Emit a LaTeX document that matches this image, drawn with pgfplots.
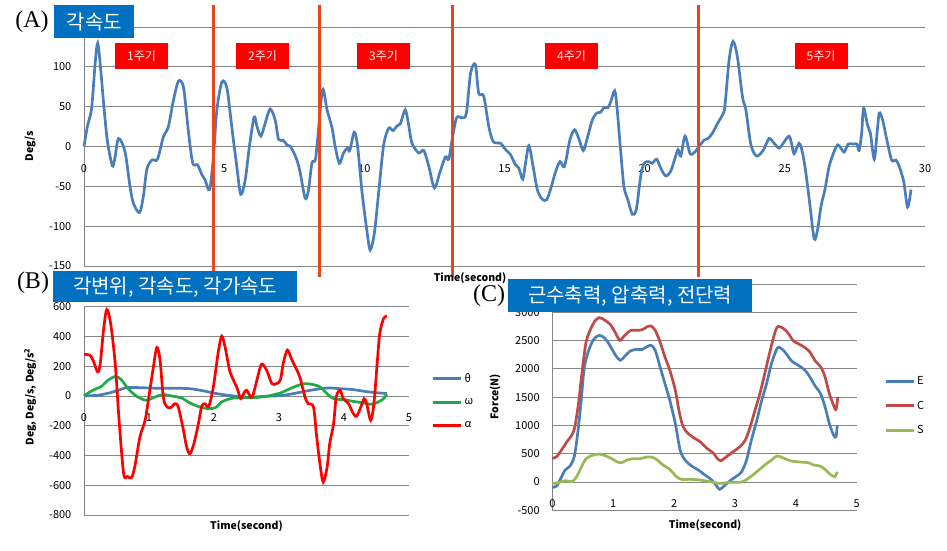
\documentclass[border=0pt]{standalone}
\usepackage{pgfplots}
\pgfplotsset{compat=1.18}
\usepackage{fontspec}
\setmainfont{Noto Sans CJK KR}
\newfontfamily\seriffont{Liberation Serif}

\definecolor{xlblue}{HTML}{4A7EBB}
\definecolor{xlred}{HTML}{BE4B48}
\definecolor{xlgreen}{HTML}{98B954}
\definecolor{brightgreen}{HTML}{1FAA45}
\definecolor{gridgray}{HTML}{868686}
\definecolor{boxblue}{HTML}{0070C0}
\definecolor{cutred}{HTML}{E8461E}

\pgfplotsset{
  excel/.style={
    scale only axis,
    anchor=south west,
    axis x line=middle, axis y line=left,
    axis line style={draw=gridgray, line width=0.8pt, -},
    ymajorgrids,
    major grid style={draw=gridgray, line width=0.8pt},
    tick style={draw=none},
    hide obscured x ticks=false,
    hide obscured y ticks=false,
    /pgf/number format/assume math mode=true,
    /pgf/number format/1000 sep={},
    scaled ticks=false,
    xticklabel style={yshift=-12pt},
    yticklabel style={xshift=-7pt},
    ticklabel style={font=\fontsize{11}{13}\selectfont},
    label style={font=\fontsize{10.5}{12}\selectfont\bfseries},
    every axis plot/.append style={smooth, line width=2.7pt, no markers},
    legend style={draw=none, fill=none, font=\fontsize{11}{13}\selectfont,
      row sep=11pt, anchor=north west},
    legend cell align=left,
    legend image code/.code={\draw[##1, line width=2.8pt] (0pt,0pt) -- (28pt,0pt);},
    clip=false,
  }
}

\begin{document}
\begin{tikzpicture}
\path[use as bounding box] (0pt,0pt) rectangle (947pt,-551pt);

% ---------- (A) angular velocity over five cycles
\begin{axis}[excel,
  at={(84pt,-266pt)}, width=841pt, height=239pt,
  xmin=0, xmax=30, ymin=-150, ymax=150,
  xtick={0,5,...,30}, ytick={-150,-100,...,150},
  yticklabels={-150,-100,-50,0,50,100,},
  xlabel={Time(second)}, ylabel={Deg/s},
  xlabel style={at={(axis description cs:0.459,-0.05)}, anchor=center},
  ylabel style={at={(axis description cs:-0.064,0.5)}, anchor=center},
]
\addplot[xlblue] coordinates {
(0,0)(0.12,25)(0.27,48)(0.40,105)(0.49,130)(0.60,95)(0.69,58)(0.83,8)(1.01,-24)(1.1,-15)
(1.23,10)(1.46,-6)(1.64,-50)(1.76,-71)(1.98,-83)(2.12,-62)(2.24,-29)(2.42,-17)(2.62,-16)
(2.83,12)(3.01,25)(3.19,58)(3.37,82)(3.55,74)(3.73,17)(3.88,-21)(4.05,-23)(4.20,-35)
(4.32,-42)(4.48,-54)(4.62,-12)(4.74,46)(4.92,81)(5.1,73)(5.27,25)(5.45,-25)(5.59,-60)
(5.75,-42)(5.9,0)(6.07,37)(6.17,25)(6.31,13)(6.46,29)(6.64,47)(6.82,33)(6.94,9)(7.1,8)
(7.24,2)(7.36,0)(7.54,-12)(7.69,-29)(7.89,-65)(8.01,-54)(8.13,-21)(8.25,-17)(8.33,8)
(8.51,71)(8.67,46)(8.85,23)(8.96,0)(9.11,-21)(9.26,-8)(9.4,-2)(9.48,-5)(9.64,18)(9.76,0)
(9.92,-58)(10.1,-108)(10.21,-130)(10.36,-108)(10.51,-58)(10.69,2)(10.87,23)(11.02,20)
(11.17,26)(11.29,29)(11.46,46)(11.58,27)(11.70,4)(11.94,-8)(12.12,-5)(12.30,-25)(12.5,-52)
(12.69,-33)(12.89,-13)(13.01,-16)(13.13,8)(13.29,36)(13.49,36)(13.64,42)(13.79,92)
(13.96,103)(14.08,67)(14.26,63)(14.44,25)(14.6,6)(14.86,4)(15.04,-4)(15.21,-10)(15.39,-23)
(15.51,-27)(15.65,-41)(15.75,-21)(15.87,1)(16.02,-25)(16.17,-54)(16.34,-66)(16.5,-67)
(16.64,-54)(16.82,-32)(16.98,-19)(17.14,-25)(17.33,8)(17.5,21)(17.65,10)(17.81,-5)
(17.95,10)(18.13,33)(18.29,42)(18.43,43)(18.55,49)(18.69,49)(18.79,56)(18.93,70)(19.02,46)
(19.14,-4)(19.26,-50)(19.40,-67)(19.56,-85)(19.7,-79)(19.86,-37)(19.98,-21)(20.15,-19)
(20.27,-21)(20.43,-16)(20.57,-27)(20.75,-37)(20.93,-31)(21.07,-16)(21.19,-4)(21.29,-12)
(21.44,13)(21.62,-9)(21.79,-7)(21.94,0)(22.12,8)(22.26,10)(22.42,17)(22.6,29)(22.78,40)
(22.86,50)(23.01,108)(23.15,132)(23.31,112)(23.49,62)(23.61,46)(23.79,2)(24,-12)(24.24,-4)
(24.44,10)(24.62,4)(24.8,-2)(24.98,6)(25.15,13)(25.24,4)(25.33,-9)(25.51,4)(25.63,-8)
(25.75,-33)(25.9,-75)(26.05,-116)(26.17,-104)(26.29,-75)(26.43,-54)(26.58,-25)(26.74,-8)
(26.88,2)(27,-2)(27.12,-7)(27.26,3)(27.45,3)(27.57,3)(27.65,-5)(27.74,17)(27.81,48)
(27.95,27)(28.05,17)(28.19,-16)(28.29,17)(28.37,42)(28.49,33)(28.64,8)(28.81,-17)
(28.96,-17)(29.08,-25)(29.24,-44)(29.38,-76)(29.5,-54)
};
% cycle boundaries
\pgfplotsinvokeforeach{4.61,8.39,13.14,21.93}{
  \draw[cutred, line width=2.6pt] (axis cs:#1,177.5) -- (axis cs:#1,-163.8);
}
\end{axis}

% ---------- (B) angular displacement, velocity, acceleration
\begin{axis}[excel,
  at={(84pt,-515pt)}, width=325pt, height=208.3pt,
  xmin=0, xmax=5, ymin=-800, ymax=600,
  xtick={0,1,...,5}, ytick={-800,-600,...,600},
  xlabel={Time(second)}, ylabel={Deg, Deg/s, Deg/s\textsuperscript{2}},
  xlabel style={at={(axis description cs:0.5,-0.053)}, anchor=center},
  ylabel style={at={(axis description cs:-0.166,0.568)}, anchor=center},
  legend style={at={(axis description cs:1.06,0.70)}},
]
\addplot[xlblue] coordinates {
(0,0)(0.19,4)(0.35,16)(0.50,34)(0.66,56)(0.86,56)(1.12,52)(1.37,52)(1.63,49)(1.84,34)
(2.04,16)(2.30,0)(2.55,-7)(2.81,-2)(3.02,2)(3.22,16)(3.43,34)(3.58,45)(3.76,54)(3.94,49)
(4.14,43)(4.35,29)(4.55,20)(4.66,16)
};
\addlegendentry{θ}
\addplot[brightgreen] coordinates {
(0,0)(0.09,27)(0.19,49)(0.27,65)(0.37,106)(0.49,132)(0.58,106)(0.68,49)(0.81,-2)(0.96,-29)
(1.09,-7)(1.22,9)(1.37,-2)(1.50,-13)(1.63,-47)(1.78,-74)(1.91,-85)(2.02,-79)(2.12,-40)
(2.25,-18)(2.40,-11)(2.61,-11)(2.81,-2)(3.02,20)(3.17,49)(3.30,72)(3.40,83)(3.53,76)
(3.63,61)(3.73,20)(3.84,-18)(3.99,-25)(4.14,-36)(4.30,-47)(4.43,-56)(4.53,-40)(4.61,-18)
(4.66,11)
};
\addlegendentry{ω}
\addplot[red] coordinates {
(0,280)(0.09,274)(0.14,240)(0.21,162)(0.25,218)(0.30,442)(0.35,581)(0.41,487)(0.48,218)
(0.54,-164)(0.61,-523)(0.67,-541)(0.73,-550)(0.78,-478)(0.86,-276)(0.94,-164)(0.99,-29)
(1.06,173)(1.12,326)(1.17,240)(1.22,-7)(1.27,-70)(1.33,-79)(1.40,-52)(1.45,-74)(1.52,-209)
(1.58,-343)(1.63,-388)(1.69,-321)(1.76,-186)(1.81,-70)(1.86,-52)(1.92,-70)(1.99,61)
(2.07,308)(2.12,402)(2.17,330)(2.24,173)(2.30,106)(2.36,49)(2.41,-18)(2.46,20)(2.50,38)
(2.55,4)(2.59,-7)(2.66,106)(2.73,213)(2.81,173)(2.89,83)(2.96,83)(3.02,106)(3.07,229)
(3.13,308)(3.19,251)(3.25,195)(3.32,128)(3.40,-7)(3.45,-52)(3.53,-74)(3.58,-276)
(3.63,-456)(3.68,-579)(3.74,-478)(3.78,-321)(3.84,-186)(3.88,-7)(3.94,38)(3.99,-18)
(4.07,-52)(4.13,-108)(4.19,-137)(4.26,-74)(4.31,-18)(4.35,-52)(4.41,-164)(4.46,-52)
(4.51,218)(4.55,420)(4.61,521)(4.66,537)
};
\addlegendentry{α}
\end{axis}

% ---------- (C) muscle, compressive and shear forces
\begin{axis}[excel,
  at={(552.3pt,-510.3pt)}, width=304.4pt, height=226.3pt,
  xmin=0, xmax=5, ymin=-500, ymax=3500,
  xtick={0,1,...,5}, ytick={-500,0,...,3500},
  yticklabels={-500,0,500,1000,1500,2000,2500,3000,},
  xlabel={Time(second)}, ylabel={Force(N)},
  xlabel style={at={(axis description cs:0.502,-0.065)}, anchor=center},
  ylabel style={at={(axis description cs:-0.188,0.502)}, anchor=center},
  legend style={at={(axis description cs:1.08,0.61)}},
]
\addplot[xlblue] coordinates {
(0,-94)(0.07,-71)(0.14,65)(0.21,212)(0.29,282)(0.36,447)(0.41,800)(0.47,1388)(0.52,1976)
(0.58,2270)(0.67,2505)(0.77,2593)(0.87,2534)(0.96,2387)(1.05,2223)(1.12,2152)(1.19,2223)
(1.28,2317)(1.39,2346)(1.47,2340)(1.55,2387)(1.62,2417)(1.69,2329)(1.77,2034)(1.85,1740)
(1.93,1446)(2.02,1035)(2.10,564)(2.18,388)(2.29,282)(2.40,212)(2.51,123)(2.62,35)
(2.70,-71)(2.75,-129)(2.84,-53)(2.95,47)(3.03,106)(3.11,182)(3.19,388)(3.27,741)
(3.36,1094)(3.44,1446)(3.52,1740)(3.60,2093)(3.69,2358)(3.74,2375)(3.82,2299)(3.93,2140)
(4.04,2064)(4.15,1976)(4.23,1858)(4.32,1693)(4.40,1576)(4.48,1329)(4.55,1035)(4.62,829)
(4.66,800)(4.68,1005)
};
\addlegendentry{E}
\addplot[xlred] coordinates {
(0,417)(0.07,447)(0.15,564)(0.24,711)(0.32,829)(0.37,976)(0.43,1388)(0.48,1858)(0.55,2446)
(0.62,2681)(0.70,2846)(0.77,2905)(0.85,2869)(0.95,2787)(1.03,2652)(1.11,2505)(1.19,2593)
(1.29,2681)(1.39,2681)(1.48,2693)(1.55,2740)(1.62,2758)(1.69,2681)(1.77,2475)(1.85,2211)
(1.93,1976)(2.02,1623)(2.09,1211)(2.15,976)(2.23,858)(2.34,770)(2.43,711)(2.54,594)
(2.64,517)(2.71,417)(2.77,376)(2.86,447)(2.97,535)(3.08,623)(3.17,741)(3.25,976)
(3.33,1270)(3.41,1564)(3.49,1917)(3.58,2329)(3.66,2652)(3.71,2752)(3.80,2711)(3.88,2622)
(3.96,2493)(4.04,2446)(4.15,2375)(4.23,2299)(4.32,2140)(4.41,2034)(4.48,1858)(4.55,1564)
(4.62,1358)(4.66,1282)(4.69,1505)
};
\addlegendentry{C}
\addplot[xlgreen] coordinates {
(0,-24)(0.10,-12)(0.21,24)(0.32,6)(0.40,94)(0.48,270)(0.56,417)(0.67,476)(0.77,494)
(0.87,465)(0.97,417)(1.06,359)(1.14,341)(1.22,388)(1.33,412)(1.44,412)(1.55,441)
(1.63,441)(1.71,400)(1.82,300)(1.93,223)(2.04,94)(2.12,47)(2.26,47)(2.43,35)(2.59,6)
(2.75,-24)(2.92,-6)(3.11,0)(3.22,65)(3.36,182)(3.49,300)(3.60,388)(3.69,459)(3.77,435)
(3.85,400)(3.93,370)(4.07,353)(4.21,341)(4.29,300)(4.40,282)(4.48,223)(4.56,141)
(4.64,94)(4.68,182)
};
\addlegendentry{S}
\end{axis}

% ---------- panel captions and cycle tags
\tikzset{titlebox/.style={fill=boxblue, text=white, inner sep=0pt, anchor=north west,
  font=\fontsize{20}{22}\selectfont},
  cyclebox/.style={fill=red, text=white, inner sep=0pt, minimum width=53pt,
  minimum height=26pt, font=\fontsize{12}{14}\selectfont}}
\node[titlebox, minimum width=80pt, minimum height=33pt] at (54pt,-5pt) {각속도};
\node[titlebox, minimum width=244pt, minimum height=31pt] at (53pt,-271pt) {각변위, 각속도, 각가속도};
\node[titlebox, minimum width=244pt, minimum height=33pt] at (508pt,-279pt) {근수축력, 압축력, 전단력};
\node[font=\seriffont\fontsize{24}{26}\selectfont, inner sep=0pt] at (32pt,-22pt) {(A)};
\node[font=\seriffont\fontsize{24}{26}\selectfont, inner sep=0pt] at (33pt,-283pt) {(B)};
\node[font=\seriffont\fontsize{24}{26}\selectfont, inner sep=0pt] at (489pt,-296pt) {(C)};
\node[cyclebox] at (141.5pt,-56pt) {1주기};
\node[cyclebox] at (262.5pt,-56pt) {2주기};
\node[cyclebox] at (383.5pt,-56pt) {3주기};
\node[cyclebox] at (571.5pt,-56pt) {4주기};
\node[cyclebox] at (821pt,-56pt) {5주기};
\end{tikzpicture}
\end{document}
